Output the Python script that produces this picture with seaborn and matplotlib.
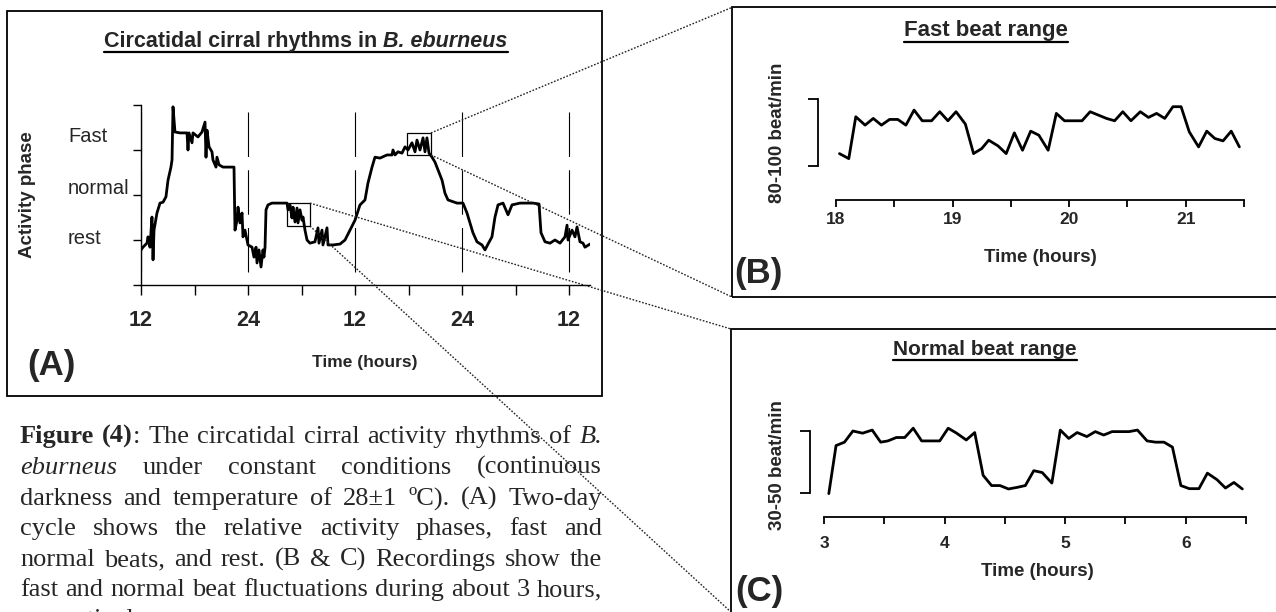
import re
import numpy as np
import pandas as pd
import seaborn as sns
import matplotlib
matplotlib.use("Agg")
import matplotlib.pyplot as plt
from matplotlib.patches import Rectangle
from matplotlib.lines import Line2D

# ---------------- data ----------------
# Panel A: activity phase level (0 = axis bottom, rest = 1, normal ~ 2, fast ~ 3) vs hours from first noon
a_hours = [0.00,0.22,0.67,0.79,1.01,1.23,1.35,1.46,1.79,2.13,
           2.47,2.80,3.03,3.36,3.48,3.59,3.81,4.37,5.16,5.27,
           5.38,5.72,5.83,6.39,6.84,7.18,7.29,7.40,7.63,7.96,
           8.07,8.41,8.52,8.75,9.20,9.98,10.43,10.54,10.77,10.88,
           11.10,11.33,11.44,11.66,12.00,12.45,12.67,12.90,13.01,13.23,
           13.46,13.68,13.79,13.91,14.02,14.24,14.69,15.59,16.37,16.49,
           16.71,16.93,17.05,17.27,17.50,17.61,17.83,18.06,18.17,18.39,
           18.62,18.95,19.51,19.85,19.96,20.30,20.41,20.86,20.97,21.53,
           22.32,22.88,23.44,24.00,24.56,25.12,25.46,25.91,26.24,26.80,
           27.59,28.15,28.26,28.49,28.82,29.27,29.61,29.94,30.39,30.73,
           30.95,31.29,31.63,31.85,32.07,32.30,32.64,32.97,33.31,33.76,
           34.09,34.43,35.44,36.11,36.56,36.90,37.23,37.68,38.24,38.58,
           38.92,39.36,39.70,40.04,40.60,41.16,41.61,42.50,43.96,44.64,
           44.86,45.31,45.87,46.43,46.99,47.55,47.78,47.89,48.34,48.67,
           48.90,49.23,49.57,49.79,50.36]
a_level = [0.78,0.84,0.93,1.07,0.84,1.51,0.56,1.22,1.60,1.82,
           1.84,1.96,2.33,2.62,2.78,3.96,3.40,3.38,3.38,3.00,
           3.38,3.16,3.38,3.29,3.40,3.62,2.84,3.44,3.07,2.96,
           2.78,2.62,2.84,2.67,2.62,2.62,2.62,1.22,1.44,1.73,
           1.38,1.60,1.07,1.22,0.89,0.84,0.62,0.84,0.49,0.78,
           0.40,0.78,0.62,0.84,1.67,1.78,1.82,1.82,1.82,1.67,
           1.78,1.49,1.73,1.40,1.71,1.38,1.67,1.44,1.51,1.22,
           1.00,0.93,0.96,1.27,0.93,1.22,0.89,1.27,0.89,0.89,
           0.91,1.00,1.22,1.44,1.78,1.89,2.27,2.62,2.84,2.82,
           2.89,2.89,3.00,2.89,2.96,2.93,3.07,3.00,3.16,2.96,
           3.22,3.00,3.27,2.96,3.27,2.93,2.84,2.73,2.56,2.33,
           2.04,1.89,1.82,1.82,1.60,1.38,1.16,0.96,0.89,0.78,
           0.91,1.07,1.51,1.78,1.82,1.56,1.78,1.82,1.82,1.80,
           1.16,0.96,0.93,1.00,0.93,1.07,1.33,1.00,1.22,1.07,
           1.29,0.96,0.93,0.84,0.91]
a_tick_pos = [0, 12, 24, 36, 48]
a_tick_labels = ["12", "24", "12", "24", "12"]
a_minor_ticks = [6, 18, 30, 42]
a_day_lines = [0, 12, 24, 36, 48]
a_phase_labels = ["Fast", "normal", "rest"]
# zoom boxes (hours, level): [x0, x1, y0, y1]
a_box_normal = [16.37, 18.95, 1.31, 1.82]
a_box_fast = [29.83, 32.52, 2.89, 3.38]

# Panel B: fast beat range
b_time = [18.03,18.11,18.17,18.25,18.32,18.39,18.46,18.53,18.60,18.67,
          18.74,18.82,18.89,18.96,19.03,19.11,19.18,19.25,19.31,19.39,
          19.46,19.53,19.60,19.67,19.74,19.82,19.89,19.96,20.03,20.11,
          20.18,20.25,20.32,20.39,20.46,20.53,20.61,20.68,20.75,20.82,
          20.89,20.96,21.03,21.11,21.18,21.25,21.32,21.39,21.46]
b_rate = [83.7,82.2,94.7,92.2,94.2,92.2,93.9,93.9,92.2,96.7,
          93.5,93.5,96.2,93.5,96.2,92.5,83.7,85.2,87.7,86.0,
          83.7,89.9,84.7,90.4,89.2,84.7,95.7,93.5,93.5,93.5,
          96.2,95.2,94.2,93.5,96.2,93.5,96.2,94.5,95.7,94.2,
          97.7,97.7,90.2,85.7,90.4,88.2,87.5,90.4,85.7]
b_ticks = [18, 19, 20, 21]
b_minor = [18.5, 19.5, 20.5, 21.5]
b_range = [80, 100]

# Panel C: normal beat range
c_time = [3.04,3.10,3.17,3.24,3.32,3.40,3.47,3.53,3.60,3.67,
          3.74,3.81,3.88,3.96,4.03,4.10,4.18,4.25,4.32,4.39,
          4.46,4.53,4.60,4.67,4.74,4.81,4.89,4.96,5.03,5.10,
          5.18,5.25,5.32,5.39,5.45,5.53,5.60,5.68,5.75,5.82,
          5.89,5.96,6.03,6.11,6.18,6.26,6.33,6.40,6.47]
c_rate = [29.8,45.3,46.4,50.0,49.3,50.3,46.4,46.8,47.9,47.9,
          50.9,46.8,46.8,46.8,50.9,49.3,47.1,49.5,35.7,32.4,
          32.4,31.3,31.8,32.4,37.2,36.6,33.2,50.3,47.6,49.5,
          48.2,49.8,48.7,49.8,49.8,49.8,50.3,46.8,46.4,46.4,
          44.8,32.4,31.4,31.4,36.4,34.3,31.6,33.4,31.3]
c_ticks = [3, 4, 5, 6]
c_minor = [3.5, 4.5, 5.5, 6.5]
c_range = [30, 50]

caption_lines = [
    "<b>Figure (4)</b>: The circatidal cirral activity rhythms of <i>B.</i>",
    "<i>eburneus</i> under constant conditions (continuous",
    "darkness and temperature of 28\u00b11 \u00baC). (A) Two-day",
    "cycle shows the relative activity phases, fast and",
    "normal beats, and rest. (B & C) Recordings show the",
    "fast and normal beat fluctuations during about 3 hours,",
    "respectively.",
]

# ---------------- style ----------------
sns.set_theme(style="white")
plt.rcParams["font.family"] = ["Liberation Sans", "DejaVu Sans"]
plt.rcParams["axes.facecolor"] = "none"

W, H = 1276, 612
fig = plt.figure(figsize=(W / 100, H / 100), dpi=100)
fig.patch.set_facecolor("white")
renderer = fig.canvas.get_renderer()


def fxy(px, py):
    return px / W, 1 - py / H


def add_axes_px(left, top, right, bottom):
    return fig.add_axes([left / W, 1 - bottom / H, (right - left) / W, (bottom - top) / H])


def ftext(px, py, s, **kw):
    x, y = fxy(px, py)
    return fig.text(x, y, s, **kw)


# ---------------- panel borders ----------------
for (l, t, r, b) in [(7, 11, 602, 396), (732, 7, 1290, 297), (731, 329, 1290, 640)]:
    x0, y1 = fxy(l, t)
    x1, y0 = fxy(r, b)
    fig.add_artist(Rectangle((x0, y0), x1 - x0, y1 - y0, transform=fig.transFigure,
                             fill=False, lw=1.3, ec="black", clip_on=False))

# ---------------- panel A ----------------
axA = add_axes_px(141, 105, 590.4, 285)
dfA = pd.DataFrame({"hours": a_hours, "level": a_level})
sns.lineplot(data=dfA, x="hours", y="level", ax=axA, color="black", lw=2.0,
             sort=False, estimator=None, errorbar=None)
for xv in a_day_lines:
    axA.plot([xv, xv], [3.84, 0], color="black", lw=0.8, dashes=(40, 12), zorder=1)
for bx in (a_box_normal, a_box_fast):
    axA.add_patch(Rectangle((bx[0], bx[2]), bx[1] - bx[0], bx[3] - bx[2],
                            fill=False, ec="black", lw=0.9, zorder=3))
axA.set_xlim(0, 50.4)
axA.set_ylim(0, 4)
axA.set_xlabel("")
axA.set_ylabel("")
for s in ["top", "right"]:
    axA.spines[s].set_visible(False)
for s in ["left", "bottom"]:
    axA.spines[s].set_color("black")
    axA.spines[s].set_linewidth(1.0)
axA.set_xticks(a_tick_pos, a_tick_labels)
axA.set_xticks(a_minor_ticks, minor=True)
axA.set_yticks([0, 1, 2, 3, 4], [""] * 5)
axA.tick_params(axis="x", which="both", bottom=True, direction="out", length=7, width=1.0,
                color="black", pad=11, labelsize=15.5)
axA.tick_params(axis="y", left=True, direction="out", length=6, width=1.0, color="black")
for lab in axA.get_xticklabels():
    lab.set_fontweight("bold")


# title with underline
def underlined_title(parts, x0, base_py, ul_py, size, center=None):
    widths = []
    for txt, style in parts:
        t = fig.text(0, 0, txt, fontsize=size, fontweight="bold",
                     fontstyle="italic" if style == "i" else "normal")
        widths.append(t.get_window_extent(renderer).width)
        t.remove()
    tot = sum(widths)
    if center is not None:
        x0 = center - tot / 2
    x = x0
    for (txt, style), w in zip(parts, widths):
        ftext(x, base_py, txt, fontsize=size, fontweight="bold",
              fontstyle="italic" if style == "i" else "normal", va="baseline", ha="left")
        x += w
    a = fxy(x0, ul_py)
    b = fxy(x, ul_py)
    fig.add_artist(Line2D([a[0], b[0]], [a[1], b[1]], transform=fig.transFigure,
                          color="black", lw=1.6))


underlined_title([("Circatidal cirral rhythms in\u00a0", "n"), ("B. eburneus", "i")],
                 104, 47, 52, 15.5)

ftext(27, 195, "Activity phase", rotation=90, ha="center", va="center",
      fontsize=13.5, fontweight="bold")
for lab, py in zip(a_phase_labels, [137, 189, 239]):
    ftext(68, py, lab, ha="left", va="center", fontsize=14.5)
ftext(365, 362, "Time (hours)", ha="center", va="center", fontsize=12.5, fontweight="bold")
ftext(27, 365, "(A)", ha="left", va="center", fontsize=25, fontweight="bold")

# ---------------- panel B ----------------
axB = add_axes_px(818, 60, 1250, 200)
dfB = pd.DataFrame({"time": b_time, "rate": b_rate})
sns.lineplot(data=dfB, x="time", y="rate", ax=axB, color="black", lw=2.0,
             sort=False, estimator=None, errorbar=None)
axB.set_xlim(17.846, 21.551)
axB.set_ylim(69.85, 111.64)

# ---------------- panel C ----------------
axC = add_axes_px(810, 380, 1252, 517)
dfC = pd.DataFrame({"time": c_time, "rate": c_rate})
sns.lineplot(data=dfC, x="time", y="rate", ax=axC, color="black", lw=2.0,
             sort=False, estimator=None, errorbar=None)
axC.set_xlim(2.884, 6.55)
axC.set_ylim(22.26, 66.45)

for ax, ticks, minor, rng, pad in [(axB, b_ticks, b_minor, b_range, 3.5),
                                   (axC, c_ticks, c_minor, c_range, 9)]:
    ax.set_xlabel("")
    ax.set_ylabel("")
    ax.spines["top"].set_visible(False)
    ax.spines["right"].set_visible(False)
    for s in ["left", "bottom"]:
        ax.spines[s].set_color("black")
        ax.spines[s].set_linewidth(1.3)
    ax.spines["left"].set_bounds(rng[0], rng[1])
    ax.spines["bottom"].set_bounds(ticks[0], minor[-1])
    ax.set_xticks(ticks, [str(t) for t in ticks])
    ax.set_xticks(minor, minor=True)
    ax.set_yticks(rng, ["", ""])
    ax.tick_params(axis="x", which="both", bottom=True, direction="out", length=5, width=1.3,
                   color="black", pad=pad, labelsize=12.5)
    ax.tick_params(axis="y", left=True, direction="out", length=7.5, width=1.3, color="black")
    for lab in ax.get_xticklabels():
        lab.set_fontweight("bold")

underlined_title([("Fast beat range", "n")], 0, 36, 42, 16, center=986)
ftext(777, 133, "80-100 beat/min", rotation=90, ha="center", va="center",
      fontsize=13.5, fontweight="bold")
ftext(1040, 257, "Time (hours)", ha="center", va="center", fontsize=13.5, fontweight="bold")
ftext(734, 273, "(B)", ha="left", va="center", fontsize=25, fontweight="bold")

underlined_title([("Normal beat range", "n")], 0, 355, 360, 15, center=985)
ftext(778, 465, "30-50 beat/min", rotation=90, ha="center", va="center",
      fontsize=13.5, fontweight="bold")
ftext(1037, 572, "Time (hours)", ha="center", va="center", fontsize=13.5, fontweight="bold")
ftext(735, 592, "(C)", ha="left", va="center", fontsize=25, fontweight="bold")

# ---------------- connector dotted lines ----------------
fig.canvas.draw()


def data_to_px(ax, x, y):
    dx, dy = ax.transData.transform((x, y))
    return dx, H - dy


conns = [
    (data_to_px(axA, a_box_fast[1], a_box_fast[3]), (733, 7)),
    (data_to_px(axA, a_box_fast[1], a_box_fast[2]), (732, 297)),
    (data_to_px(axA, a_box_normal[1], a_box_normal[3]), (731, 329)),
    (data_to_px(axA, a_box_normal[1], a_box_normal[2]), (731, 612)),
]
for (p0, p1) in conns:
    a = fxy(*p0)
    b = fxy(*p1)
    fig.add_artist(Line2D([a[0], b[0]], [a[1], b[1]], transform=fig.transFigure,
                          color="#222222", lw=1.0, linestyle=(0, (1.2, 1.2)), zorder=5))


# ---------------- caption (justified) ----------------
def parse(line):
    segs = re.split(r"(<b>|</b>|<i>|</i>)", line)
    style = "n"
    words = [[]]
    for s in segs:
        if s == "<b>":
            style = "b"; continue
        if s == "<i>":
            style = "i"; continue
        if s in ("</b>", "</i>"):
            style = "n"; continue
        parts = s.split(" ")
        for k, p in enumerate(parts):
            if k > 0:
                words.append([])
            if p:
                words[-1].append((p, style))
    return [w for w in words if w]


cap_size = 19
cap_left, cap_right = 20, 602
cap_base = [443, 474, 505, 535, 566, 596, 626]


def seg_kw(style):
    return dict(fontsize=cap_size, family=["Liberation Serif", "DejaVu Serif"],
                fontweight="bold" if style == "b" else "normal",
                fontstyle="italic" if style == "i" else "normal")


def seg_width(txt, style):
    t = fig.text(0, 0, txt, **seg_kw(style))
    w = t.get_window_extent(renderer).width
    t.remove()
    return w


space_w = seg_width("a a", "n") - seg_width("aa", "n")

for li, line in enumerate(caption_lines):
    words = parse(line)
    wwidths = [[seg_width(t, s) for t, s in w] for w in words]
    tot = sum(sum(w) for w in wwidths)
    justify = li < len(caption_lines) - 1
    gap = space_w
    if justify and len(words) > 1:
        gap = (cap_right - cap_left - tot) / (len(words) - 1)
        gap = max(gap, space_w * 0.6)
    x = cap_left
    for w, ws in zip(words, wwidths):
        for (t, s), sw in zip(w, ws):
            ftext(x, cap_base[li], t, va="baseline", ha="left", **seg_kw(s))
            x += sw
        x += gap

fig.savefig("out.png", dpi=100)
